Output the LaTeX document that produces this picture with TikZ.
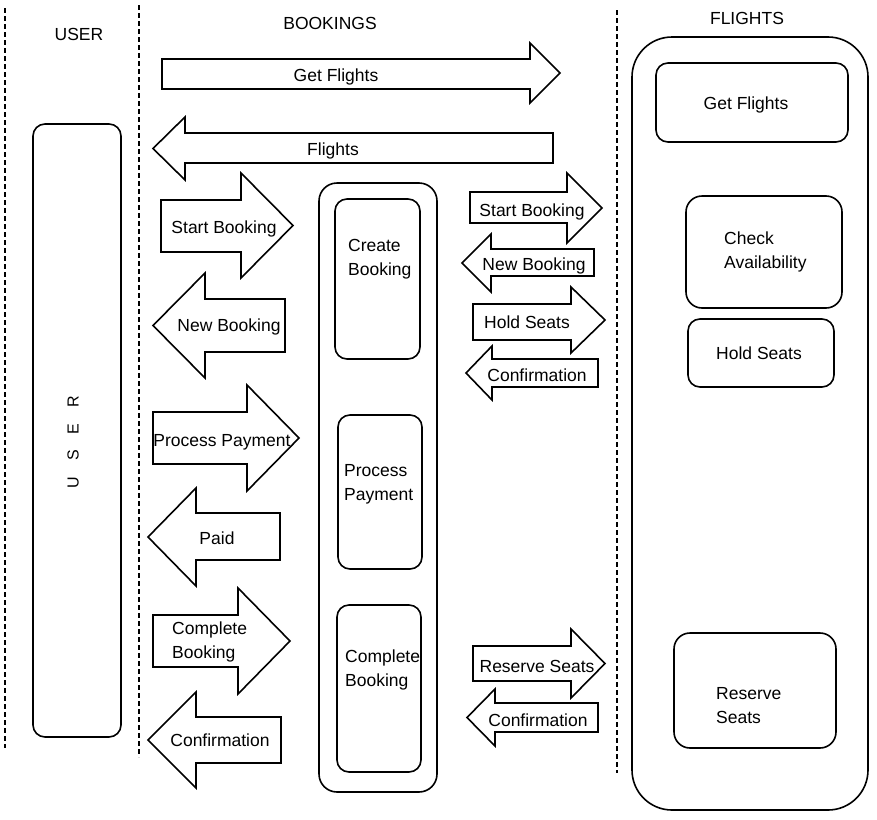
\documentclass[tikz,border=0pt]{standalone}
\usepackage{fontspec}
\setmainfont{Liberation Sans}
\begin{document}
\begin{tikzpicture}[x=1pt,y=-1pt,
  lane/.style={line width=1.9pt,dash pattern=on 5pt off 3pt},
  blk/.style={draw,line width=1.6pt,line join=miter},
  box/.style={draw,line width=1.6pt},
  lbl/.style={inner sep=0pt,font=\fontsize{17.5}{24}\selectfont,anchor=base,yshift=-6.3pt},
  mlbl/.style={inner sep=0pt,font=\fontsize{17.5}{24}\selectfont,align=left,anchor=north west,yshift=-4pt},
  title/.style={inner sep=0pt,font=\fontsize{17.5}{24}\selectfont}]
\useasboundingbox (0,0) rectangle (877,819);
% right-pointing block arrow: left, head x, tip x, shaft top, shaft bottom, head top, head bottom
\newcommand{\rblk}[7]{\draw[blk] (#1,#4) -- (#2,#4) -- (#2,#6) -- (#3,{(#6+#7)/2}) -- (#2,#7) -- (#2,#5) -- (#1,#5) -- cycle;}
% left-pointing block arrow: right, head x, tip x, shaft top, shaft bottom, head top, head bottom
\newcommand{\lblk}[7]{\draw[blk] (#1,#4) -- (#2,#4) -- (#2,#6) -- (#3,{(#6+#7)/2}) -- (#2,#7) -- (#2,#5) -- (#1,#5) -- cycle;}

% swimlane separators
\draw[lane] (5,8) -- (5,748);
\draw[lane] (139,5) -- (139,757);
\draw[lane] (617,10) -- (617,773);

% lane titles
\node[title] (tuser) at (79,34) {USER};
\node[title] (tbook) at (330,23) {BOOKINGS};
\node[title] (tflight) at (747,18) {FLIGHTS};

% user lane
\draw[box,rounded corners=12pt] (33,124) rectangle (121,737);
\node[inner sep=0pt,font=\fontsize{16}{18}\selectfont,rotate=90] (userlbl) at (73,442) {U\kern16pt S\kern16pt E\kern16pt R};

% bookings container and steps
\draw[box,rounded corners=18pt] (319,183) rectangle (437,792);
\draw[box,rounded corners=12pt] (335,199) rectangle (420,359);
\node[mlbl] (create) at (348,235) {Create\\Booking};
\draw[box,rounded corners=12pt] (338,415) rectangle (422,569);
\node[mlbl] (procpay) at (344,460) {Process\\Payment};
\draw[box,rounded corners=12pt] (337,605) rectangle (421,772);
\node[mlbl] (complete) at (345,646) {Complete\\Booking};

% flights container and services
\draw[box,rounded corners=40pt] (632,37) rectangle (868,810);
\draw[box,rounded corners=12pt] (656,63) rectangle (848,142);
\node[lbl] (sgetfl) at (746,103) {Get Flights};
\draw[box,rounded corners=16pt] (686,196) rectangle (842,308);
\node[mlbl] (check) at (724,228) {Check\\Availability};
\draw[box,rounded corners=12pt] (688,319) rectangle (834,387);
\node[lbl] (shold) at (759,353) {Hold Seats};
\draw[box,rounded corners=16pt] (674,633) rectangle (836,748);
\node[mlbl] (reserve) at (716,683) {Reserve\\Seats};

% user <-> bookings messages
\rblk{162}{530}{560}{59}{89}{43}{103}
\node[lbl] (mgetfl) at (336,75) {Get Flights};
\lblk{553}{185}{153}{133}{163}{117}{180}
\node[lbl] (mflights) at (333,149) {Flights};
\rblk{161}{241}{293}{200}{252}{173}{278}
\node[lbl] (mstart) at (224,227) {Start Booking};
\lblk{285}{205}{153}{299}{352}{273}{378}
\node[lbl] (mnew) at (229,325) {New Booking};
\rblk{153}{247}{299}{412}{464}{385}{491}
\node[lbl] (mpay) at (222,440) {Process Payment};
\lblk{280}{196}{148}{513}{560}{488}{586}
\node[lbl] (mpaid) at (217,538) {Paid};
\rblk{153}{238}{290}{615}{667}{588}{694}
\node[mlbl] (mcomplete) at (172,618) {Complete\\Booking};
\lblk{281}{196}{148}{717}{763}{692}{788}
\node[lbl] (mconf1) at (220,740) {Confirmation};

% bookings <-> flights messages
\rblk{470}{567}{602}{192}{223}{173}{243}
\node[lbl] (fstart) at (532,210) {Start Booking};
\lblk{594}{491}{462}{249}{276}{234}{292}
\node[lbl] (fnew) at (534,264) {New Booking};
\rblk{473}{571}{605}{304}{340}{287}{353}
\node[lbl] (fhold) at (527,322) {Hold Seats};
\lblk{598}{492}{466}{359}{387}{346}{400}
\node[lbl] (fconf1) at (537,375) {Confirmation};
\rblk{473}{571}{605}{646}{681}{629}{698}
\node[lbl] (freserve) at (537,666) {Reserve Seats};
\lblk{598}{495}{467}{703}{732}{689}{746}
\node[lbl] (fconf2) at (538,720) {Confirmation};
\end{tikzpicture}
\end{document}
